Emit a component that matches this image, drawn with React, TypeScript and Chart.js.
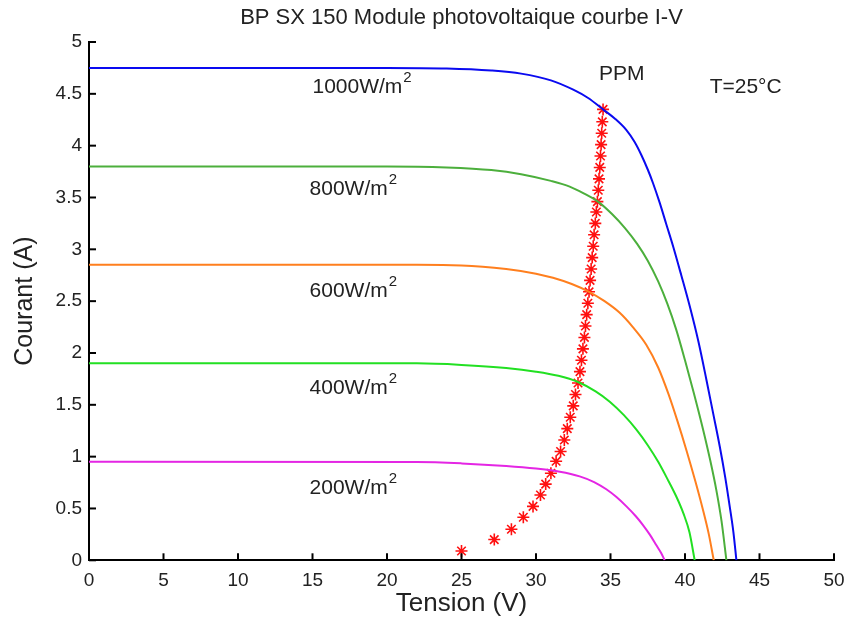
import React, { useEffect, useRef } from "react";
import { Chart, registerables } from "chart.js";

Chart.register(...registerables);

const chartTitle = "BP SX 150 Module photovoltaique courbe I-V";
const xAxisTitle = "Tension (V)";
const yAxisTitle = "Courant (A)";

const xTicks = [0, 5, 10, 15, 20, 25, 30, 35, 40, 45, 50];
const yTicks = [0, 0.5, 1, 1.5, 2, 2.5, 3, 3.5, 4, 4.5, 5];

const voltage1000 = [0, 20, 24, 27, 29, 31, 32.5, 33.5, 34.5, 35.3, 36.07, 36.6, 37.07, 37.5, 37.85, 38.3, 38.75, 39.2, 39.75, 40.32, 40.9, 41.44, 41.9, 42.33, 42.7, 43.0, 43.25, 43.45];
const current1000 = [4.75, 4.75, 4.745, 4.725, 4.695, 4.63, 4.54, 4.46, 4.35, 4.26, 4.15, 4.04, 3.91, 3.77, 3.64, 3.45, 3.24, 3.03, 2.75, 2.45, 2.11, 1.74, 1.41, 1.1, 0.8, 0.52, 0.27, 0];

const voltage800 = [0, 20, 24, 27, 29, 31, 32.26, 33.2, 34.16, 35.1, 36.0, 36.8, 37.5, 38.2, 38.8, 39.4, 40.0, 40.6, 41.2, 41.7, 42.1, 42.45, 42.78];
const current800 = [3.8, 3.8, 3.79, 3.765, 3.725, 3.66, 3.605, 3.54, 3.46, 3.34, 3.2, 3.05, 2.89, 2.69, 2.48, 2.23, 1.93, 1.61, 1.27, 0.96, 0.68, 0.38, 0];

const voltage600 = [0, 22, 25, 28, 30, 31.14, 32.4, 33.56, 34.6, 35.6, 36.5, 37.4, 38.2, 38.9, 39.5, 40.1, 40.7, 41.2, 41.6, 41.93];
const current600 = [2.85, 2.85, 2.845, 2.81, 2.765, 2.725, 2.665, 2.59, 2.5, 2.39, 2.25, 2.08, 1.86, 1.6, 1.34, 1.06, 0.76, 0.49, 0.25, 0];

const voltage400 = [0, 22, 25, 28, 30, 31.5, 32.82, 34, 34.95, 35.9, 36.74, 37.5, 38.2, 38.8, 39.4, 39.9, 40.3, 40.65];
const current400 = [1.9, 1.9, 1.885, 1.855, 1.82, 1.78, 1.72, 1.63, 1.53, 1.4, 1.26, 1.11, 0.95, 0.79, 0.62, 0.45, 0.27, 0];

const voltage200 = [0, 22, 25, 28, 30, 31.6, 32.93, 33.9, 34.72, 35.4, 36.07, 36.7, 37.18, 37.65, 38.08, 38.4, 38.64];
const current200 = [0.95, 0.948, 0.935, 0.91, 0.885, 0.855, 0.81, 0.755, 0.685, 0.61, 0.52, 0.425, 0.34, 0.245, 0.145, 0.07, 0];

const ppmVoltage = [25.0, 27.2, 28.35, 29.15, 29.8, 30.3, 30.65, 31.0, 31.35, 31.65, 31.9, 32.1, 32.3, 32.5, 32.65, 32.82, 32.95, 33.05, 33.15, 33.25, 33.32, 33.4, 33.48, 33.56, 33.63, 33.7, 33.77, 33.84, 33.9, 33.98, 34.05, 34.12, 34.18, 34.23, 34.28, 34.33, 34.37, 34.41, 34.45, 34.5];
const ppmCurrent = [0.09, 0.2, 0.3, 0.415, 0.52, 0.63, 0.735, 0.84, 0.955, 1.05, 1.16, 1.27, 1.38, 1.49, 1.6, 1.71, 1.82, 1.93, 2.04, 2.15, 2.26, 2.37, 2.48, 2.59, 2.7, 2.81, 2.92, 3.03, 3.14, 3.25, 3.36, 3.46, 3.57, 3.68, 3.79, 3.9, 4.01, 4.12, 4.23, 4.35];

const curveLabels = ["1000W/m", "800W/m", "600W/m", "400W/m", "200W/m"];
const curveLabelV = [15.0, 14.8, 14.8, 14.8, 14.8];
const curveLabelI = [4.565, 3.584, 2.6, 1.663, 0.7];
const curveColors = ["#0a0af0", "#4caf3c", "#ff7f1e", "#22e022", "#e426e4"];

const notes = ["PPM", "T=25°C"];
const noteV = [35.75, 44.07];
const noteI = [4.69, 4.56];

const FONT = '"Liberation Sans", Arial, Helvetica, sans-serif';

const toPoints = (xs: number[], ys: number[]) => xs.map((v, i) => ({ x: v, y: ys[i] }));

const overlay = {
  id: "overlay",
  afterDraw(chart: any) {
    const { ctx, chartArea } = chart;
    const x = chart.scales.x;
    const y = chart.scales.y;
    ctx.save();
    ctx.strokeStyle = "#000";
    ctx.lineWidth = 2;
    xTicks.forEach((v) => {
      const px = x.getPixelForValue(v);
      ctx.beginPath();
      ctx.moveTo(px, chartArea.bottom);
      ctx.lineTo(px, chartArea.bottom - 7);
      ctx.stroke();
    });
    yTicks.forEach((v) => {
      const py = y.getPixelForValue(v);
      ctx.beginPath();
      ctx.moveTo(chartArea.left, py);
      ctx.lineTo(chartArea.left + 7, py);
      ctx.stroke();
    });
    ctx.fillStyle = "#222";
    ctx.textBaseline = "middle";
    ctx.textAlign = "center";
    ctx.font = `22px ${FONT}`;
    ctx.fillText(chartTitle, (chartArea.left + chartArea.right) / 2, 18);
    ctx.font = `26px ${FONT}`;
    ctx.fillText(xAxisTitle, (chartArea.left + chartArea.right) / 2, 604);
    ctx.save();
    ctx.font = `25px ${FONT}`;
    ctx.translate(25, (chartArea.top + chartArea.bottom) / 2);
    ctx.rotate(-Math.PI / 2);
    ctx.fillText(yAxisTitle, 0, 0);
    ctx.restore();
    ctx.textAlign = "left";
    curveLabels.forEach((t, i) => {
      const px = x.getPixelForValue(curveLabelV[i]);
      const py = y.getPixelForValue(curveLabelI[i]);
      ctx.font = `21px ${FONT}`;
      ctx.fillText(t, px, py);
      const w = ctx.measureText(t).width;
      ctx.font = `15px ${FONT}`;
      ctx.fillText("2", px + w + 1, py - 9);
    });
    ctx.textAlign = "center";
    ctx.font = `21px ${FONT}`;
    notes.forEach((t, i) => {
      ctx.fillText(t, x.getPixelForValue(noteV[i]), y.getPixelForValue(noteI[i]));
    });
    ctx.restore();
  },
};

export default function App() {
  const canvasRef = useRef<HTMLCanvasElement | null>(null);

  useEffect(() => {
    const canvas = canvasRef.current;
    if (!canvas) return;
    const series = [
      [voltage1000, current1000],
      [voltage800, current800],
      [voltage600, current600],
      [voltage400, current400],
      [voltage200, current200],
    ];
    const datasets: any[] = series.map(([vx, iy], k) => ({
      label: curveLabels[k] + "2",
      data: toPoints(vx, iy),
      showLine: true,
      borderColor: curveColors[k],
      backgroundColor: curveColors[k],
      borderWidth: 2,
      pointRadius: 0,
      cubicInterpolationMode: "monotone",
    }));
    datasets.push({
      label: "PPM",
      data: toPoints(ppmVoltage, ppmCurrent),
      showLine: false,
      pointStyle: "star",
      pointRadius: 6,
      borderColor: "#ff1010",
      backgroundColor: "#ff1010",
      pointBorderWidth: 1.6,
    });

    const chart = new Chart(canvas, {
      type: "scatter",
      data: { datasets },
      plugins: [overlay],
      options: {
        animation: false,
        responsive: false,
        maintainAspectRatio: false,
        layout: { padding: { top: 42, right: 15, left: 0, bottom: 0 } },
        plugins: { legend: { display: false }, tooltip: { enabled: false }, title: { display: false } },
        scales: {
          x: {
            type: "linear",
            min: 0,
            max: 50,
            afterBuildTicks: (s: any) => {
              s.ticks = xTicks.map((v) => ({ value: v }));
            },
            afterFit: (s: any) => {
              s.height = 61.7;
              s.paddingLeft = 0;
              s.paddingRight = 0;
            },
            ticks: { font: { size: 19, family: FONT }, color: "#222", padding: 9, maxRotation: 0, autoSkip: false },
            grid: { display: false, drawTicks: false },
            border: { display: true, color: "#000", width: 2 },
          },
          y: {
            type: "linear",
            min: 0,
            max: 5,
            afterBuildTicks: (s: any) => {
              s.ticks = yTicks.map((v) => ({ value: v }));
            },
            afterFit: (s: any) => {
              s.width = 89;
            },
            ticks: { font: { size: 19, family: FONT }, color: "#222", padding: 7, autoSkip: false, callback: (v: any) => String(v) },
            grid: { display: false, drawTicks: false },
            border: { display: true, color: "#000", width: 2 },
          },
        },
      },
    });
    return () => chart.destroy();
  }, []);

  return (
    <div style={{ position: "fixed", left: 0, top: 0, width: 849, height: 622, background: "#fff" }}>
      <canvas ref={canvasRef} width={849} height={622} style={{ width: 849, height: 622 }} />
    </div>
  );
}
